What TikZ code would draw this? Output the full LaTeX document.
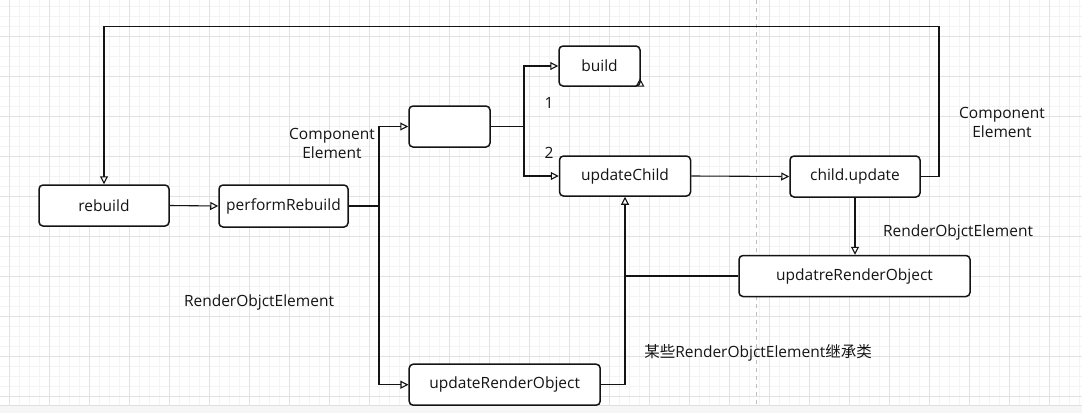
\documentclass[tikz,border=0pt]{standalone}
\usepackage{fontspec}
\setmainfont{Open Sans}
\newfontfamily\cjk{Noto Sans CJK SC}
\usetikzlibrary{arrows.meta}
\definecolor{gmajor}{RGB}{226,226,226}
\definecolor{gminor}{RGB}{244,244,244}
\definecolor{pageline}{RGB}{190,190,190}
\definecolor{ink}{RGB}{20,20,20}
\tikzset{
  sbox/.style={draw=ink, line width=1.5pt, rounded corners=4pt, fill=white,
    inner sep=0pt, font=\fontsize{15.5}{19}\selectfont, text=ink},
  arr/.style={draw=ink, line width=1.1pt, -{Triangle[open, length=8pt, width=8pt]}},
  ln/.style={draw=ink, line width=1.1pt},
  lbl/.style={font=\fontsize{15.5}{19}\selectfont, text=ink, align=center, inner sep=0pt}
}
\begin{document}
\begin{tikzpicture}[x=1pt, y=-1pt]
\useasboundingbox (0,0) rectangle (1082,413);
% background grid
\fill[white] (0,0) rectangle (1082,413);
\foreach \gx in {9,19,...,1079} \draw[gminor, line width=0.8pt] (\gx,0) -- (\gx,405);
\foreach \gy in {6,16,...,396} \draw[gminor, line width=0.8pt] (0,\gy) -- (1082,\gy);
\foreach \gx in {9,49,...,1079} \draw[gmajor, line width=1pt] (\gx,0) -- (\gx,405);
\foreach \gy in {36,76,...,396} \draw[gmajor, line width=1pt] (0,\gy) -- (1082,\gy);
\draw[pageline, line width=0.8pt, dash pattern=on 4pt off 4pt] (756.7,0) -- (756.7,405);
\fill[gray!7] (0,405) rectangle (1082,413);
\draw[gray!25, line width=1pt] (0,405.5) -- (1082,405.5);

% nodes
\node[sbox, minimum width=130pt, minimum height=41pt] (rebuild) at (104,205.5) {rebuild};
\node[sbox, minimum width=129pt, minimum height=42pt] (perf) at (283.5,206) {performRebuild};
\node[sbox, minimum width=81pt, minimum height=41pt] (empty) at (449.5,126.5) {};
\node[sbox, minimum width=81pt, minimum height=40pt] (build) at (599.5,66) {build};
\node[sbox, minimum width=131pt, minimum height=40pt] (updchild) at (625,176) {updateChild};
\node[sbox, minimum width=130pt, minimum height=41pt] (childupd) at (855,176.5) {child.update};
\node[sbox, minimum width=231pt, minimum height=41pt] (updatre) at (854.5,276) {updatreRenderObject};
\node[sbox, minimum width=191pt, minimum height=41pt] (updro) at (504.7,384.7) {updateRenderObject};

% junction coordinates
\coordinate (j1) at (379,206);
\coordinate (j2) at (524,126.5);
\coordinate (top1) at (939,26.5);

% connectors
\draw[arr] (rebuild.east) -- (perf.west);
\draw[ln] (perf.east) -- (j1);
\draw[arr] (j1) |- (empty.west);
\draw[arr] (j1) |- (updro.west);
\draw[ln] (empty.east) -- (j2);
\draw[arr] (j2) |- (build.west);
\draw[arr] (j2) |- (updchild.west);
\draw[arr] (updchild.east) -- (childupd.west);
\draw[arr] (childupd.east) -| (top1) -| (rebuild.north);
\draw[arr] (childupd.south) -- (childupd.south |- updatre.north);
\draw[arr] (updro.east) -| (updchild.south);
\draw[ln] (updatre.west) -- (updatre.west -| updchild.south);
% stray arrowhead at build corner
\draw[ink, line width=1pt] (636.5,86) -- (640,79.5) -- (643.5,86) -- cycle;

% labels
\node[lbl] (n1) at (549,103) {1};
\node[lbl] (n2) at (549,153) {2};
\node[lbl] (ce1) at (332,143) {Component\\Element};
\node[lbl] (ce2) at (1002,122.5) {Component\\Element};
\node[lbl] (roe1) at (958,232.7) {RenderObjctElement};
\node[lbl] (roe2) at (259,302.7) {RenderObjctElement};
\node[lbl] (sub) at (758,352.5) {{\cjk 某些}RenderObjctElement{\cjk 继承类}};
\end{tikzpicture}
\end{document}
